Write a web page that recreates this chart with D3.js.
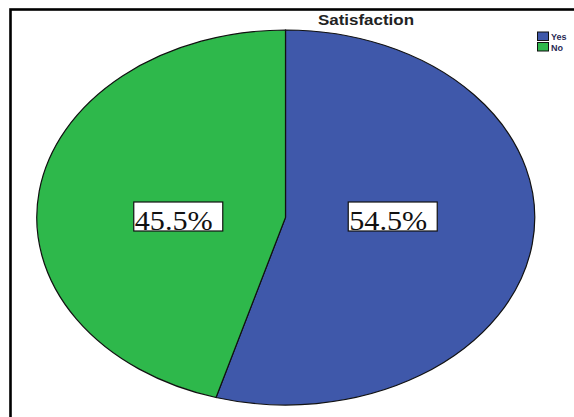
<!DOCTYPE html>
<html>
<head>
<meta charset="utf-8">
<script src="https://cdn.jsdelivr.net/npm/d3@7"></script>
<style>
  html, body { margin: 0; padding: 0; background: #fff; }
  svg { display: block; }
</style>
</head>
<body>
<svg id="chart" width="574" height="417"></svg>
<script>
const title = "Satisfaction";
const categories = ["Yes", "No"];
const values = [54.5, 45.5];
const labels = ["54.5%", "45.5%"];
const colors = ["#3f58aa", "#2eb84b"];

const svg = d3.select("#chart");

// frame
svg.append("rect")
  .attr("x", 10.5).attr("y", 9.5)
  .attr("width", 700).attr("height", 600)
  .attr("fill", "none").attr("stroke", "#000").attr("stroke-width", 2.6);

// title
svg.append("text")
  .attr("x", 366).attr("y", 25)
  .attr("text-anchor", "middle")
  .attr("font-family", "Liberation Sans, Arial, sans-serif")
  .attr("font-weight", "bold")
  .attr("font-size", 14)
  .attr("fill", "#222")
  .attr("textLength", 96)
  .attr("lengthAdjust", "spacingAndGlyphs")
  .text(title);

// pie (elliptical)
const cx = 285.5, cy = 217.5, rx = 249, ry = 187.5;
const pie = d3.pie().sort(null).value(d => d.v).startAngle(0).endAngle(2 * Math.PI);
const data = categories.map((c, i) => ({ c, v: values[i], label: labels[i], color: colors[i] }));
const arcs = pie(data);
const arc = d3.arc().innerRadius(0).outerRadius(1);
const labelArc = d3.arc().innerRadius(0).outerRadius(0.87);

const g = svg.append("g").attr("transform", `translate(${cx},${cy}) scale(${rx},${ry})`);
g.selectAll("path").data(arcs).join("path")
  .attr("d", arc)
  .attr("fill", d => d.data.color)
  .attr("stroke", "#111")
  .attr("stroke-width", 1.2)
  .attr("vector-effect", "non-scaling-stroke");

// labels (placed horizontally at the slice centroid, on the pie's centre line)
const lg = svg.append("g");
arcs.forEach(d => {
  const [ux] = labelArc.centroid(d);
  const x = cx + ux * rx, y = cy - 1;
  const bw = 89, bh = 29;
  lg.append("rect")
    .attr("x", x - bw / 2).attr("y", y - bh / 2)
    .attr("width", bw).attr("height", bh)
    .attr("fill", "#fff").attr("stroke", "#111").attr("stroke-width", 1.2);
  lg.append("text")
    .attr("x", x - bw / 2 + 1).attr("y", y + 13)
    .attr("font-family", "Liberation Serif, Times New Roman, serif")
    .attr("font-size", 28)
    .attr("fill", "#111")
    .attr("textLength", 78)
    .attr("lengthAdjust", "spacingAndGlyphs")
    .text(d.data.label);
});

// legend
const leg = svg.append("g");
data.forEach((d, i) => {
  const y = 32 + i * 10.5;
  leg.append("rect")
    .attr("x", 537.5).attr("y", y)
    .attr("width", 11).attr("height", 8.5)
    .attr("fill", d.color).attr("stroke", "#111").attr("stroke-width", 1);
  leg.append("text")
    .attr("x", 551).attr("y", y + 8)
    .attr("font-family", "Liberation Sans, Arial, sans-serif")
    .attr("font-weight", "bold")
    .attr("font-size", 9)
    .attr("fill", "#2a2a55")
    .text(d.c);
});
</script>
</body>
</html>
